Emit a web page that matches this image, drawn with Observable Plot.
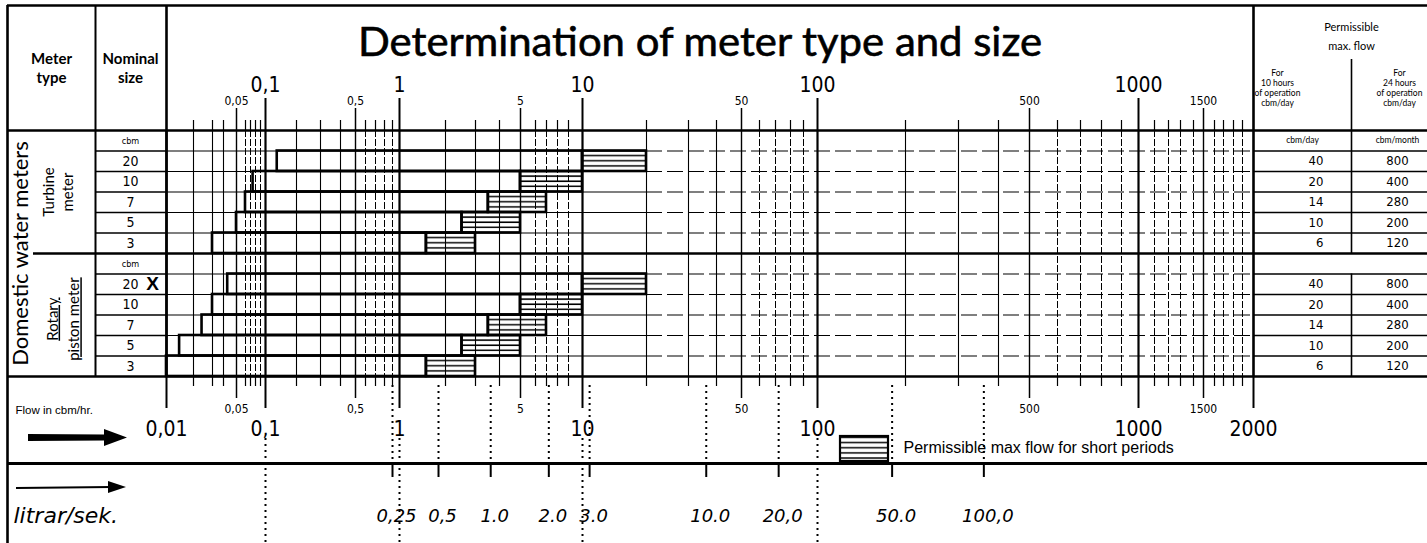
<!DOCTYPE html>
<html><head><meta charset="utf-8">
<script src="https://cdn.jsdelivr.net/npm/d3@7"></script>
<script src="https://cdn.jsdelivr.net/npm/@observablehq/plot@0.6"></script>
<style>
body{margin:0;background:#fff;}
#chart{width:1427px;height:543px;overflow:hidden;}
</style></head><body><div id="chart"></div>
<script>
// ---------- data ----------
const nominalSizes = [20, 10, 7, 5, 3];
const turbineMinFlow = [0.13, 0.075, 0.06, 0.05, 0.03];
const rotaryMinFlow = [0.043, 0.03, 0.024, 0.014, 0.01];
const nominalFlow = [10, 5, 3.5, 2.5, 1.5];
const maxFlow = [20, 10, 7, 5, 3];
const flow10h = [40, 20, 14, 10, 6];
const flow24h = [800, 400, 280, 200, 120];
const litrarValues = [0.25, 0.5, 1, 2, 3, 10, 20, 50, 100];
const litrarLabels = ["0,25", "0,5", "1.0", "2.0", "3.0", "10.0", "20,0", "50.0", "100,0"];
const bigTicks = [0.01, 0.1, 1, 10, 100, 1000, 2000];
const bigLabels = ["0,01", "0,1", "1", "10", "100", "1000", "2000"];
const halfTicks = [0.05, 0.5, 5, 50, 500, 1500];
const halfLabels = ["0,05", "0,5", "5", "50", "500", "1500"];
const gridTicks = [0.01,0.02,0.03,0.04,0.05,0.06,0.07,0.08,0.09,
  0.1,0.2,0.3,0.4,0.5,0.6,0.7,0.8,0.9,
  1,2,3,4,5,6,7,8,9,
  10,20,30,40,50,60,70,80,90,
  100,200,300,400,500,600,700,800,900,
  1000,1100,1200,1300,1400,1500,1600,1700,1800,1900,2000];
// printed (non-uniform) positions of the flow scale graduations
const axisPixels = [166,193,212,223,236,245,250,255,260,
  265,296,320,340,355,365,375,384,392,
  399,445,475,499,520,535,546,557,568,
  582,646,688,716,741,759,775,790,803,
  817,905,958,998,1029,1057,1080,1101,1121,
  1138,1154,1168,1180,1193,1203,1214,1223,1233,1242,1253];
const rowLabels = ["cbm","20","10","7","5","3","cbm","20","10","7","5","3"];
const groups = [{name: "Turbine", start: 0, minFlow: turbineMinFlow}, {name: "Rotary", start: 6, minFlow: rotaryMinFlow}];
const titleText = "Determination of meter type and size";

// ---------- layout ----------
const W = 1427, H = 543, mL = 166, mR = 174, mT = 130, mB = 167;
const frameW = W - mL - mR, frameH = H - mT - mB, nRows = rowLabels.length;
const numFont = "'Liberation Sans Narrow','DejaVu Sans Condensed','Liberation Sans',sans-serif";
const headFont = "Lato, 'Open Sans', sans-serif";
const hand = "'DejaVu Sans', sans-serif";
const mid = {textAnchor: "middle", lineAnchor: "middle"};

const bars = groups.flatMap(g => nominalSizes.map((s, i) => ({
  row: g.start + 1 + i, size: s, min: g.minFlow[i], qn: nominalFlow[i], qmax: maxFlow[i], d10: flow10h[i], d24: flow24h[i]
})));
const rowIdx = d3.range(nRows);
const rowEdges = d3.range(1, nRows).filter(r => r !== 6);
const decades = [0.01, 0.1, 1, 10, 100, 1000];
const isIn = (arr, v) => arr.some(a => Math.abs(a - v) / v < 1e-9);
const lead = v => Math.round(v / Math.pow(10, Math.floor(Math.log10(v) + 1e-9)));
const gridMinor = gridTicks.filter(v => !isIn(decades, v) && !isIn(halfTicks, v) && v < 2000);
const gridSolid = gridMinor.filter(v => v < 1000 && lead(v) <= 4);
const gridDash = gridMinor.filter(v => !(v < 1000 && lead(v) <= 4));
const line = (o) => Object.assign({stroke: "#000"}, o);

const chart = Plot.plot({
  width: W, height: H,
  marginLeft: mL, marginRight: mR, marginTop: mT, marginBottom: mB,
  style: {background: "#fff", overflow: "visible", fontFamily: numFont, color: "#000"},
  x: {type: "log", domain: gridTicks, range: axisPixels, axis: null},
  y: {type: "linear", domain: [0, nRows], reverse: true, axis: null},
  marks: [
    // vertical grid
    Plot.ruleX(gridDash, line({strokeWidth: 1, strokeDasharray: "7,2"})),
    Plot.ruleX(gridSolid, line({strokeWidth: 1.1})),
    Plot.ruleX(halfTicks.filter(v => v < 2000), line({strokeWidth: 1.4})),
    Plot.ruleX(decades, line({strokeWidth: 2.2})),
    // horizontal row lines
    Plot.ruleY(rowEdges, line({x1: 0.01, x2: 20, strokeWidth: 1.2})),
    Plot.ruleY(rowEdges, line({x1: 20, x2: 2000, strokeWidth: 1.2, strokeDasharray: "16,5"})),
    // bars
    Plot.rect(bars, line({x1: "min", x2: "qn", y1: "row", y2: d => d.row + 1, fill: "none", strokeWidth: 2.6})),
    Plot.rect(bars, line({x1: "qn", x2: "qmax", y1: "row", y2: d => d.row + 1, fill: "url(#hatch)", strokeWidth: 2.6})),

    // structural table lines
    Plot.ruleY([0, nRows], line({insetLeft: -(mL - 7), insetRight: -mR, strokeWidth: 2.6})),
    Plot.ruleY([6], line({insetLeft: -(mL - 33), insetRight: -mR, strokeWidth: 2.6})),
    Plot.ruleY([0], line({dy: -125, insetLeft: -(mL - 7), insetRight: -mR, strokeWidth: 2.6})),
    Plot.ruleY([nRows], line({dy: 87, insetLeft: -(mL - 7), insetRight: -mR, strokeWidth: 3.2})),
    Plot.ruleY(rowEdges, line({insetLeft: -(mL - 95), insetRight: frameW, strokeWidth: 1.3})),
    Plot.ruleY(rowEdges, line({insetLeft: frameW, insetRight: -mR, strokeWidth: 1.3})),
    Plot.ruleX([0.01], line({dx: -(mL - 7), insetTop: -125, insetBottom: -mB, strokeWidth: 2.6})),
    Plot.ruleX([0.01], line({dx: -(mL - 95), insetTop: -125, strokeWidth: 2})),
    Plot.ruleX([0.01], line({insetTop: -125, strokeWidth: 2.6})),
    Plot.ruleX([2000], line({insetTop: -125, strokeWidth: 2.6})),
    Plot.ruleX([2000], line({dx: 98, insetTop: -71, insetBottom: frameH * 6 / nRows - 1, strokeWidth: 1.6})),
    Plot.ruleX([2000], line({dx: 98, insetTop: frameH * 7 / nRows, strokeWidth: 1.6})),

    // top axis ticks
    Plot.ruleX(gridMinor, line({insetTop: -10, insetBottom: frameH, strokeWidth: 1.2})),
    Plot.ruleX(halfTicks, line({insetTop: -22, insetBottom: frameH, strokeWidth: 1.5})),
    Plot.ruleX(decades.slice(1), line({insetTop: -32, insetBottom: frameH, strokeWidth: 2})),
    // bottom axis ticks
    Plot.ruleX(gridMinor, line({insetTop: frameH, insetBottom: -10, strokeWidth: 1.2})),
    Plot.ruleX(halfTicks, line({insetTop: frameH, insetBottom: -22, strokeWidth: 1.5})),
    Plot.ruleX(bigTicks, line({insetTop: frameH, insetBottom: -32, strokeWidth: 2})),

    // top axis labels
    Plot.text(bigTicks.slice(1, 6), {...mid, x: d => d, text: (d, i) => bigLabels[i + 1], frameAnchor: "top", dy: -45, fontSize: 21}),
    Plot.text(halfTicks, {...mid, x: d => d, text: (d, i) => halfLabels[i], frameAnchor: "top", dy: -29, fontSize: 12}),
    // bottom axis labels
    Plot.text(bigTicks, {...mid, x: d => d, text: (d, i) => bigLabels[i], frameAnchor: "bottom", dy: 53, fontSize: 21}),
    Plot.text(halfTicks, {...mid, x: d => d, text: (d, i) => halfLabels[i], frameAnchor: "bottom", dy: 33, fontSize: 12}),

    // title
    Plot.text([titleText], {...mid, frameAnchor: "top", dx: -10, dy: -87, fontSize: 40, fontFamily: headFont, fill: "#000", stroke: "#000", strokeWidth: 0.6}),
    // left header
    Plot.text(["Meter\ntype"], {...mid, frameAnchor: "top-left", dx: -(mL - 51), dy: -63, fontSize: 15, fontWeight: "bold", fontFamily: headFont, lineHeight: 1.3}),
    Plot.text(["Nominal\nsize"], {...mid, frameAnchor: "top-left", dx: -(mL - 130), dy: -63, fontSize: 15, fontWeight: "bold", fontFamily: headFont, lineHeight: 1.3}),
    Plot.text(["Domestic water meters"], {...mid, frameAnchor: "left", y: 6, dx: -(mL - 20), rotate: -90, fontSize: 22, fontFamily: headFont}),
    Plot.text(["Turbine\nmeter"], {...mid, frameAnchor: "left", y: 3, dx: -(mL - 57), rotate: -90, fontSize: 15, fontFamily: headFont, lineHeight: 1.25}),
    Plot.text(["Rotary\npiston meter"], {...mid, frameAnchor: "left", y: 9.2, dx: -(mL - 61), rotate: -90, fontSize: 15, fontFamily: headFont, lineHeight: 1.45}),
    // nominal size column
    Plot.text(rowIdx.filter(r => rowLabels[r] === "cbm"), {...mid, y: d => d + 0.5, text: d => rowLabels[d], frameAnchor: "left", dx: -(mL - 130), fontSize: 9}),
    Plot.text(bars, {...mid, y: d => d.row + 0.5, text: d => String(d.size), frameAnchor: "left", dx: -(mL - 130), fontSize: 14}),
    Plot.text(bars.filter(d => d.row === 7), {...mid, y: d => d.row + 0.5, text: () => "X", frameAnchor: "left", dx: -(mL - 152), fontSize: 19, fontWeight: "bold", fontFamily: "'Liberation Sans',sans-serif"}),

    // right table
    Plot.text(["Permissible\nmax. flow"], {...mid, frameAnchor: "top-right", dx: 98, dy: -96, fontSize: 11, lineHeight: 1.75, fontFamily: headFont}),
    Plot.text(["For\n10 hours\nof operation\ncbm/day"], {...mid, frameAnchor: "top-right", dx: 24, dy: -43, fontSize: 8.5, lineHeight: 1.18, fontFamily: headFont}),
    Plot.text(["For\n24 hours\nof operation\ncbm/day"], {...mid, frameAnchor: "top-right", dx: 146, dy: -43, fontSize: 8.5, lineHeight: 1.18, fontFamily: headFont}),
    Plot.text(["cbm/day"], {...mid, frameAnchor: "right", y: 0.5, dx: 49, fontSize: 8.5, fontFamily: headFont}),
    Plot.text(["cbm/month"], {...mid, frameAnchor: "right", y: 0.5, dx: 144, fontSize: 8.5, fontFamily: headFont}),
    Plot.text(bars, {y: d => d.row + 0.5, text: d => String(d.d10), frameAnchor: "right", dx: 70, textAnchor: "end", lineAnchor: "middle", fontSize: 13}),
    Plot.text(bars, {...mid, y: d => d.row + 0.5, text: d => String(d.d24), frameAnchor: "right", dx: 144, fontSize: 13}),

    // bottom area
    Plot.text(["Flow in cbm/hr."], {frameAnchor: "bottom-left", lineAnchor: "middle", dx: -(mL - 15), dy: 34, textAnchor: "start", fontSize: 11.5, fontFamily: "'Liberation Sans',sans-serif"}),
    Plot.text(["Permissible max flow for short periods"], {frameAnchor: "bottom-left", lineAnchor: "middle", dx: 903 - mL, dy: 71, textAnchor: "start", fontSize: 16, fontFamily: "'Liberation Sans',sans-serif"}),
    // dotted conversion lines (litres/second -> cbm/hr)
    Plot.ruleX(litrarValues, line({x: d => d * 3.6, insetTop: frameH + 9, insetBottom: -87, strokeWidth: 2, strokeDasharray: "2,4"})),
    Plot.ruleX([0.1, 1, 10, 100], line({insetTop: frameH + 62, insetBottom: -mB, strokeWidth: 2, strokeDasharray: "2,4"})),
    Plot.ruleX(litrarValues, line({x: d => d * 3.6, insetTop: frameH + 87, insetBottom: -101, strokeWidth: 2})),
    Plot.text(litrarValues, {...mid, x: d => d * 3.6, text: (d, i) => litrarLabels[i], frameAnchor: "bottom", dx: 4, dy: 140, fontSize: 18, fontStyle: "italic", fontFamily: hand}),
    Plot.text(["litrar/sek."], {frameAnchor: "bottom-left", lineAnchor: "middle", dx: -(mL - 13), dy: 139, textAnchor: "start", fontSize: 22, fontStyle: "italic", fontFamily: hand})
  ]
});

const svg = d3.select(chart);
const defs = svg.insert("defs", ":first-child");
const pat = defs.append("pattern").attr("id", "hatch").attr("patternUnits", "userSpaceOnUse")
  .attr("width", 8).attr("height", frameH / nRows / 4);
pat.append("line").attr("x1", 0).attr("x2", 8).attr("y1", 1.875).attr("y2", 1.875)
  .attr("stroke", "#000").attr("stroke-width", 1.5);
// stretch the title to the printed width
svg.selectAll("text").filter(function() { return this.textContent === titleText; })
  .attr("textLength", 684).attr("lengthAdjust", "spacingAndGlyphs");
// legend swatch
svg.append("rect").attr("x", 840).attr("y", 436).attr("width", 48).attr("height", 25)
  .attr("fill", "url(#hatch)").attr("stroke", "#000").attr("stroke-width", 2.2);
// arrows
svg.append("path").attr("d", "M28,434 L104,434.5 L104,429 L127,437.5 L104,446 L104,440.5 L28,441 Z").attr("fill", "#000");
svg.append("path").attr("d", "M16,488 L112,487").attr("stroke", "#000").attr("stroke-width", 2);
svg.append("path").attr("d", "M108,481 L126,487 L108,493 Z").attr("fill", "#000");
// underline the rotated "Rotary / piston meter" lines
svg.selectAll("tspan").filter(function() { return this.textContent === "Rotary" || this.textContent === "piston meter"; })
  .style("text-decoration", "underline");
document.getElementById("chart").appendChild(chart);
</script>
</body></html>
